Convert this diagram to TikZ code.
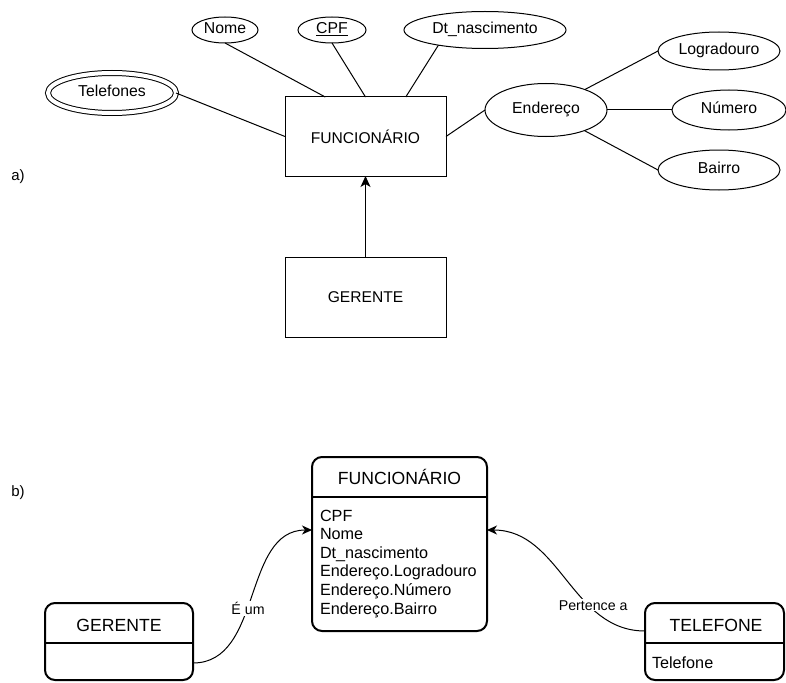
\documentclass[tikz,border=0pt]{standalone}
\usepackage{fontspec}
\setmainfont{Liberation Sans}
\usetikzlibrary{shapes.geometric,arrows.meta,calc}

\begin{document}
\begin{tikzpicture}[x=1pt,y=-1pt,
  every node/.style={inner sep=0pt, outer sep=0pt},
  attr/.style={ellipse, draw, line width=1pt, font=\fontsize{15.8}{18}\selectfont,
    text height=1.5ex, text depth=0.3ex},
  entity/.style={rectangle, draw, line width=1pt, minimum width=161pt,
    minimum height=79pt, font=\fontsize{15.6}{18}\selectfont},
  link/.style={line width=1pt},
  isa/.style={line width=1pt, -{Stealth[length=11pt,width=10pt,inset=3pt]}},
  tbl/.style={draw, line width=2pt, rounded corners=10pt},
  sep/.style={line width=2pt},
  thead/.style={anchor=base, font=\fontsize{17.6}{20}\selectfont},
  tattr/.style={anchor=base west, font=\fontsize{16.2}{18.5}\selectfont},
  rel/.style={line width=1pt, -{Stealth[length=10pt,width=9pt,inset=3pt]}},
  lbl/.style={fill=white, inner sep=1pt, font=\fontsize{14.2}{16}\selectfont},
  tag/.style={font=\fontsize{15}{18}\selectfont}
]
\useasboundingbox (0,0) rectangle (786,682);

% ---------- a) ER diagram ----------
\node[tag] (la) at (18,177) {a)};

\node[entity] (func) at (365.5,136.5) {FUNCIONÁRIO};
\node[entity, minimum height=80pt] (ger) at (365.5,297) {GERENTE};

\node[attr, minimum width=66pt, minimum height=26pt] (nome) at (225,30) {Nome};
\node[attr, minimum width=68pt, minimum height=26pt] (cpf) at (332,30) {\underline{CPF}};
\node[attr, minimum width=162pt, minimum height=37pt] (dt) at (485,30) {Dt\_nascimento};
\node[attr, double, double distance=4pt, minimum width=128pt, minimum height=40pt] (tel) at (112,93) {Telefones};
\node[attr, minimum width=122pt, minimum height=53pt] (endr) at (546,110) {Endereço};
\node[attr, minimum width=122pt, minimum height=38pt] (logr) at (719,51) {Logradouro};
\node[attr, minimum width=114pt, minimum height=40pt] (num) at (729,110) {Número};
\node[attr, minimum width=122pt, minimum height=40pt] (bairro) at (719,170) {Bairro};

\draw[link] (nome.south) -- ($(func.north west)!0.25!(func.north east)$);
\draw[link] (cpf.south) -- (func.north);
\draw[link] (dt.198) -- ($(func.north west)!0.75!(func.north east)$);
\draw[link] (tel.east) -- (func.west);
\draw[link] (func.east) -- (endr.west);
\draw[link] (endr) -- (logr.west);
\draw[link] (endr.east) -- (num.west);
\draw[link] (endr) -- (bairro.west);
\draw[isa] (ger.north) -- (func.south);

% ---------- b) relational tables ----------
\node[tag] (lb) at (18,493) {b)};

% FUNCIONÁRIO table
\node[tbl, minimum width=175pt, minimum height=174pt] (ftab) at (399.5,544) {};
\node[thead] (fhead) at (399.5,484) {FUNCIONÁRIO};
\draw[sep] (ftab.west |- 0,497) -- (ftab.east |- 0,497);
\foreach \t [count=\i from 0] in {CPF, Nome, Dt\_nascimento, Endereço.Logradouro,
    Endereço.Número, Endereço.Bairro}
  \node[tattr] (fa\i) at (320,{521+18.6*\i}) {\t};

% GERENTE table
\node[tbl, minimum width=148pt, minimum height=77pt] (gtab) at (119,641.5) {};
\node[thead] (ghead) at (119,631) {GERENTE};
\draw[sep] (gtab.west |- 0,643) -- (gtab.east |- 0,643);

% TELEFONE table
\node[tbl, minimum width=139pt, minimum height=77pt] (ttab) at (714.5,641.5) {};
\node[thead] (thead) at (716,631) {TELEFONE};
\draw[sep] (ttab.west |- 0,643) -- (ttab.east |- 0,643);
\node[tattr] (tt0) at (652,668) {Telefone};

% relationships
\draw[rel] (gtab.east |- 0,663) to[out=0,in=180]
  node[lbl, pos=0.44] (isum) {É um} (ftab.west |- 0,530);
\draw[rel] (ttab.west |- 0,631) to[out=180,in=0]
  node[lbl, pos=0.33, xshift=5pt] (pert) {Pertence a} (ftab.east |- 0,530);
\end{tikzpicture}
\end{document}
